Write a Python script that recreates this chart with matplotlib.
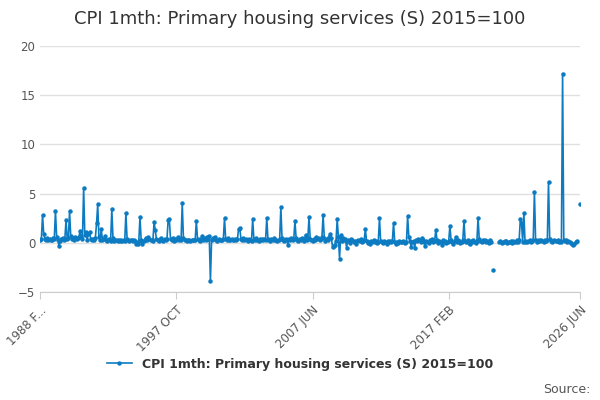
import numpy as np
import matplotlib.pyplot as plt

nan = np.nan
# monthly % change, Jan..Dec per year (1988 starts in Feb)
y1988 = [0.3, 0.4, 2.8, 0.9, 0.4, 0.3, 0.5, 0.3, 0.4, 0.3, 0.3]
y1989 = [0.5, 0.4, 3.2, 0.6, 0.3, -0.3, 0.2, 0.4, 0.5, 0.3, 0.4, 2.3]
y1990 = [0.4, 0.5, 3.2, 0.7, 0.4, 0.5, 0.3, 0.6, 0.4, 0.5, 0.6, 1.2]
y1991 = [0.6, 0.4, 5.6, 0.8, 1.1, 0.3, 0.9, 1.1, 0.4, 0.3, 0.4, 0.3]
y1992 = [0.5, 2.0, 3.9, 0.6, 0.3, 1.4, 0.3, 0.4, 0.7, 0.3, 0.2, 0.3]
y1993 = [0.4, 0.2, 3.4, 0.5, 0.2, 0.3, 0.3, 0.2, 0.3, 0.2, 0.3, 0.2]
y1994 = [0.3, 0.2, 3.0, 0.4, 0.3, 0.2, 0.3, 0.3, 0.2, 0.3, 0.2, -0.1]
y1995 = [-0.1, 0.2, 2.6, 0.3, -0.1, 0.2, 0.3, 0.5, 0.3, 0.6, 0.4, 0.3]
y1996 = [0.3, 0.2, 2.1, 1.3, 0.4, 0.3, 0.2, 0.4, 0.5, 0.3, 0.2, 0.4]
y1997 = [0.3, 0.4, 2.3, 2.4, 0.4, 0.3, 0.5, 0.2, 0.4, 0.3, 0.6, 0.3]
y1998 = [0.4, 0.3, 4.0, 0.5, 0.3, 0.3, 0.2, 0.3, 0.3, 0.2, 0.3, 0.3]
y1999 = [0.3, 0.3, 2.2, 0.4, 0.3, 0.2, 0.4, 0.7, 0.3, 0.5, 0.3, 0.6]
y2000 = [0.4, 0.7, -3.9, 0.3, 0.5, 0.4, 0.6, 0.3, 0.2, 0.4, 0.3, 0.3]
y2001 = [0.3, 0.4, 2.5, 0.4, 0.3, 0.5, 0.3, 0.3, 0.4, 0.3, 0.3, 0.4]
y2002 = [0.3, 0.4, 1.4, 1.5, 0.4, 0.3, 0.5, 0.3, 0.4, 0.3, 0.2, 0.4]
y2003 = [0.3, 0.2, 2.4, 0.4, 0.3, 0.5, 0.3, 0.2, 0.4, 0.3, 0.4, 0.3]
y2004 = [0.4, 0.3, 2.5, 0.4, 0.3, 0.2, 0.4, 0.3, 0.5, 0.3, 0.3, 0.2]
y2005 = [0.3, 0.4, 3.6, 0.5, 0.3, 0.2, 0.4, 0.3, -0.2, 0.4, 0.3, 0.5]
y2006 = [0.3, 0.4, 2.2, 0.5, 0.3, 0.2, 0.4, 0.3, 0.5, 0.4, 0.2, 0.8]
y2007 = [0.3, 0.5, 2.6, 0.4, 0.3, 0.2, 0.4, 0.3, 0.6, 0.4, 0.5, 0.3]
y2008 = [0.4, 0.6, 2.8, 0.5, 0.2, 0.4, 0.3, 0.6, 0.9, 0.5, -0.4, -0.3]
y2009 = [-0.2, 0.2, 2.4, 0.6, -1.6, 0.8, 0.2, 0.5, 0.3, 0.4, -0.5, 0.3]
y2010 = [0.2, 0.0, 0.4, 0.3, 0.1, 0.2, -0.1, 0.2, 0.3, 0.2, 0.4, 0.1]
y2011 = [0.2, 0.3, 1.4, 0.2, 0.0, 0.1, -0.1, 0.2, 0.1, 0.3, 0.1, 0.2]
y2012 = [0.0, 0.1, 2.5, 0.2, 0.1, 0.0, 0.2, 0.1, -0.1, 0.2, 0.1, 0.2]
y2013 = [0.1, 0.2, 2.0, 0.1, -0.1, 0.1, 0.0, 0.2, 0.1, 0.1, 0.2, 0.1]
y2014 = [0.0, 0.1, 2.7, 0.6, 0.2, -0.4, 0.1, 0.2, -0.5, 0.3, 0.2, 0.4]
y2015 = [0.3, 0.1, 0.5, 0.3, 0.1, -0.3, 0.2, 0.1, 0.0, 0.3, 0.2, 0.4]
y2016 = [0.1, 0.2, 1.3, 0.3, 0.0, 0.2, 0.1, -0.2, 0.3, 0.1, 0.2, 0.0]
y2017 = [0.1, 0.2, 1.7, 0.3, 0.1, -0.1, 0.2, 0.6, 0.1, 0.3, 0.2, 0.0]
y2018 = [0.1, 0.3, 2.2, 0.2, 0.1, 0.3, 0.0, -0.1, 0.2, 0.1, 0.3, 0.1]
y2019 = [0.0, 0.2, 2.5, 0.4, 0.2, 0.1, 0.3, 0.2, 0.3, 0.1, 0.2, 0.0]
y2020 = [0.3, 0.1, nan, -2.8, nan, nan, nan, nan, 0.1, 0.2, 0.0, 0.1]
y2021 = [0.1, 0.2, 0.2, 0.0, 0.1, 0.1, 0.2, 0.0, 0.2, 0.1, 0.1, 0.3]
y2022 = [0.1, 0.3, 2.4, 2.0, 0.1, 3.0, 0.1, 0.2, 0.1, 0.2, 0.3, 0.1]
y2023 = [0.2, 0.3, 5.2, 0.3, 0.1, 0.2, 0.3, 0.2, 0.3, 0.2, 0.1, 0.3]
y2024 = [0.2, 0.3, 6.2, 0.4, 0.2, 0.1, 0.2, 0.3, 0.2, 0.2, 0.3, 0.1]
y2025 = [0.2, 0.1, 17.2, 0.3, 0.2, 0.3, 0.1, 0.2, 0.1, 0.0, -0.1, -0.2]
y2026 = [-0.1, 0.1, 0.2, nan, nan, 3.9]

series = (y1988 + y1989 + y1990 + y1991 + y1992 + y1993 + y1994 + y1995 + y1996 + y1997
          + y1998 + y1999 + y2000 + y2001 + y2002 + y2003 + y2004 + y2005 + y2006 + y2007
          + y2008 + y2009 + y2010 + y2011 + y2012 + y2013 + y2014 + y2015 + y2016 + y2017
          + y2018 + y2019 + y2020 + y2021 + y2022 + y2023 + y2024 + y2025 + y2026)
tick_pos = [0, 116, 232, 348, 460]
tick_labels = ['1988 F...', '1997 OCT', '2007 JUN', '2017 FEB', '2026 JUN']
name = 'CPI 1mth: Primary housing services (S) 2015=100'

blue = '#0c7bc2'
fig = plt.figure(figsize=(6, 4), dpi=100)
ax = fig.add_axes([0.067, 0.27, 0.9, 0.615])
x = np.arange(len(series))
ax.plot(x, series, color=blue, linewidth=1.2, marker='o', markersize=2.2, label=name)

ax.set_xlim(0, 460)
ax.set_ylim(-5, 20)
ax.set_yticks([-5, 0, 5, 10, 15, 20])
ax.set_xticks(tick_pos)
ax.set_xticklabels(tick_labels, rotation=45, ha='right', rotation_mode='anchor')
ax.tick_params(axis='both', labelsize=8.5, colors='#555555', length=0)
ax.tick_params(axis='x', length=5, color='#cccccc')
ax.grid(axis='y', color='#e0e0e0', linewidth=1)
ax.set_axisbelow(True)
for s in ['top', 'right', 'left']:
    ax.spines[s].set_visible(False)
ax.spines['bottom'].set_color('#cccccc')

fig.suptitle(name, fontsize=13, color='#333333', y=0.975)
fig.legend(loc='lower center', bbox_to_anchor=(0.5, 0.045), frameon=False,
           prop={'size': 9, 'weight': 'bold'}, labelcolor='#333333')
fig.text(0.985, 0.01, 'Source:', ha='right', va='bottom', fontsize=9, color='#555555')

fig.savefig('out.png', dpi=100)
